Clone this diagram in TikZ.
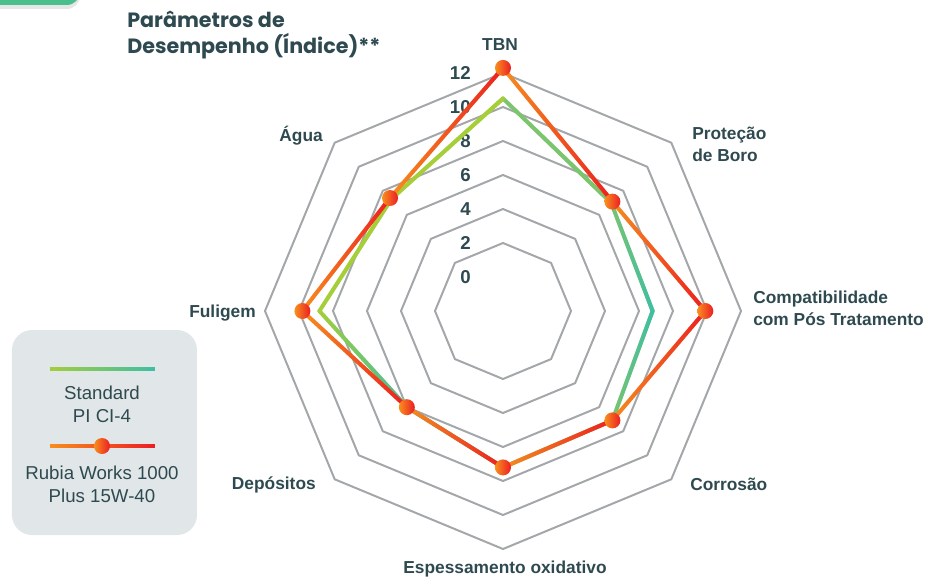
\documentclass[tikz,border=0pt]{standalone}
\usepackage{fontspec}
\setmainfont{Liberation Sans}
\newfontfamily\titlefont{Poppins}
\usetikzlibrary{fadings,shadows}

\definecolor{inkgray}{HTML}{2E4A50}
\definecolor{gridgray}{HTML}{A4A7A9}
\definecolor{rubiaorange}{HTML}{F7901E}
\definecolor{rubiared}{HTML}{EC1C24}
\definecolor{stdyellow}{HTML}{A5CE39}
\definecolor{stdgreen}{HTML}{7DC46E}
\definecolor{stdteal}{HTML}{3BBFA6}
\definecolor{legendbg}{HTML}{E1E6E8}
\definecolor{tabgreen}{HTML}{4ABE8C}

\tikzfading[name=fade right, left color=transparent!100, right color=transparent!0]

\tikzset{
  axislabel/.style={font=\bfseries\fontsize{13}{16.5}\selectfont, text=inkgray, inner sep=0pt},
  ticklabel/.style={font=\bfseries\fontsize{14}{16}\selectfont, text=inkgray, inner sep=0pt, anchor=east},
  legendtext/.style={font=\fontsize{14}{17}\selectfont, text=inkgray, align=center, inner sep=0pt},
  gridline/.style={draw=gridgray, line width=1.5pt},
  dataline/.style={line width=3pt, line cap=round, line join=round},
}

\begin{document}
\begin{tikzpicture}[x=0.75pt,y=0.75pt]
\useasboundingbox (-503,-268) rectangle (428,311);

% corner tab
\fill[tabgreen, rounded corners=10, drop shadow={opacity=0.2, shadow xshift=0pt, shadow yshift=-3pt}]
    (-530,340) rectangle (-423,306);

% title
\node [anchor=north west, inner sep=0pt, align=left, text=inkgray,
       font=\titlefont\bfseries\fontsize{15.5}{19.5}\selectfont] (title) at (-376,300)
    {Parâmetros de\\ Desempenho (Índice)**};

% grid rings
\foreach \v in {2,4,...,12} {
  \pgfmathsetmacro\r{34+17*\v}
  \draw [gridline] (90:\r) -- (45:\r) -- (0:\r) -- (-45:\r) -- (-90:\r)
      -- (-135:\r) -- (180:\r) -- (135:\r) -- cycle;
}

% scale
\foreach \v in {0,2,...,12}
  \node [ticklabel] (tick\v) at (-32,{34+17*\v}) {\v};

% axis labels
\node [axislabel]                         (tbn)          at (-3,266)   {TBN};
\node [axislabel,anchor=west,align=left]  (boro)         at (189,167)  {Proteção\\ de Boro};
\node [axislabel,anchor=west,align=left]  (compat)       at (250,3)    {Compatibilidade\\ com Pós Tratamento};
\node [axislabel,anchor=west]             (corrosao)     at (187,-173) {Corrosão};
\node [axislabel]                         (espessamento) at (2,-258)   {Espessamento oxidativo};
\node [axislabel,anchor=east]             (depositos)    at (-187,-174){Depósitos};
\node [axislabel,anchor=east]             (fuligem)      at (-247,-2)  {Fuligem};
\node [axislabel,anchor=east]             (agua)         at (-180,175) {Água};

% data points
\foreach \v [count=\i from 0] in {10.5,7.0,6.8,7.1,7.2,6.0,8.8,7.3}
  \coordinate (std\i) at ({90-45*\i}:{34+17*\v});
\foreach \v [count=\i from 0] in {12.3,7.1,9.9,7.1,7.2,6.0,9.8,7.4}
  \coordinate (rubia\i) at ({90-45*\i}:{34+17*\v});

% standard line (colour at left end / right end of each piece)
\foreach \i/\cl/\cr [evaluate=\i as \j using {int(mod(\i+1,8))}] in
    {0/stdgreen/stdgreen, 1/stdgreen/stdteal, 2/stdgreen/stdteal, 3/stdgreen/stdgreen,
     4/stdteal/stdgreen, 5/stdyellow/stdteal, 6/stdyellow/stdyellow, 7/stdyellow/stdyellow} {
  \draw [dataline, \cl] (std\i) -- (std\j);
  \draw [dataline, \cr, path fading=fade right] (std\i) -- (std\j);
}

% rubia line
\foreach \i [evaluate=\i as \j using {int(mod(\i+1,8))}] in {0,...,7} {
  \draw [dataline, rubiaorange] (rubia\i) -- (rubia\j);
  \draw [dataline, rubiared, path fading=fade right] (rubia\i) -- (rubia\j);
}
\foreach \i in {0,...,7}
  \shade [left color=rubiaorange, right color=rubiared] (rubia\i) circle (8);

% legend
\fill [legendbg, rounded corners=15] (-491,-19) rectangle (-306,-224);
\coordinate (stdA) at (-453,-58);
\coordinate (stdB) at (-348,-58);
\draw [line width=3pt, stdyellow] (stdA) -- (stdB);
\draw [line width=3pt, stdteal, path fading=fade right] (stdA) -- (stdB);
\node [legendtext] (stdlabel) at (-401,-93) {Standard\\ PI CI-4};

\coordinate (rubiaA) at (-453,-135);
\coordinate (rubiaB) at (-348,-135);
\draw [line width=3pt, rubiaorange] (rubiaA) -- (rubiaB);
\draw [line width=3pt, rubiared, path fading=fade right] (rubiaA) -- (rubiaB);
\shade [left color=rubiaorange, right color=rubiared] (-401,-135) circle (8);
\node [legendtext] (rubialabel) at (-401,-173) {Rubia Works 1000\\ Plus 15W-40};
\end{tikzpicture}
\end{document}
